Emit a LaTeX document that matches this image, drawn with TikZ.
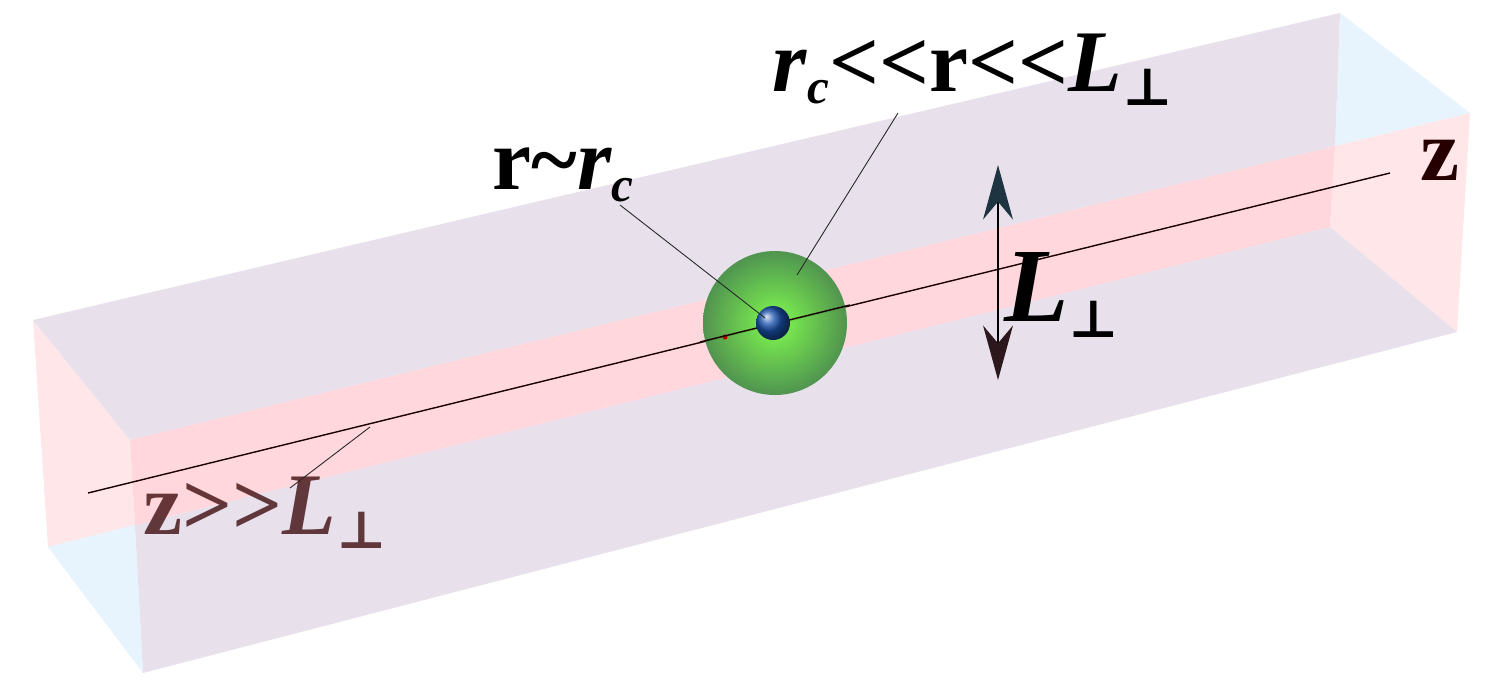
\documentclass[tikz,border=0pt]{standalone}
\usepackage{fontspec}
\setmainfont{Liberation Serif}
\newfontfamily\symfont{DejaVu Serif}
\usetikzlibrary{arrows.meta}
\definecolor{lav}{HTML}{E8E1EC}
\definecolor{band}{HTML}{FFD7DD}
\definecolor{pale}{HTML}{FFE6E8}
\definecolor{sky}{HTML}{E7F4FE}
\definecolor{tipup}{HTML}{1E3440}
\definecolor{tipdn}{HTML}{2C171C}
\newcommand{\Lperp}{\textit{L}\raisebox{-0.35ex}{\fontsize{30}{30}\selectfont\symfont\bfseries ⊥}}
\newcommand{\rsub}{\textit{r}\raisebox{-0.3ex}{\fontsize{28}{28}\selectfont\textit{c}}}
\tikzstyle{face}=[draw=none]
\tikzstyle{lab}=[font=\fontsize{50}{56}\selectfont\bfseries,inner sep=0pt]
\tikzstyle{leader}=[line width=0.5pt,black!85]
\begin{document}
\begin{tikzpicture}[x=0.02cm,y=-0.02cm]
\useasboundingbox (0,0) rectangle (1500,690);
% corners of the box
\coordinate (A) at (33,320); \coordinate (B) at (130,440);
\coordinate (C) at (48,547); \coordinate (D) at (143,673);
\coordinate (E) at (1340,13); \coordinate (F) at (1470,113);
\coordinate (G) at (1330,227); \coordinate (H) at (1457,332);
\coordinate (P) at (135,525); \coordinate (Q) at (1335,146);
% faces
\fill[face,pale] (A) -- (B) -- (P) -- (C) -- cycle;
\fill[face,sky] (C) -- (P) -- (D) -- cycle;
\fill[face,sky] (E) -- (F) -- (Q) -- cycle;
\fill[face,pale] (Q) -- (F) -- (H) -- (G) -- cycle;
\fill[face,lav] (A) -- (E) -- (Q) -- (B) -- cycle;
\fill[face,lav] (P) -- (G) -- (H) -- (D) -- cycle;
\fill[face,band] (B) -- (Q) -- (G) -- (P) -- cycle;
% axis
\coordinate (z0) at (88,493); \coordinate (z1) at (1390,173);
\draw[line width=0.8pt,black!90!red] (z0) -- (z1);
\node[lab,text=black!85!red] (zlab) at (1440,160) {z};
% spheres
\shade[inner color=green!65!lime!75!white,outer color=green!40!black!75,opacity=0.9] (775,323) circle (72);
\fill[red!70!black] (725,337) circle (2.5);
\draw[line width=0.8pt,black!90!red] (700,342) -- (850,305);
\shade[ball color=blue!45!teal!80!gray] (773,323) circle (17);
\coordinate (core) at (765,318); \coordinate (shell) at (797,275);
\coordinate (far) at (370,427);
% arrow
\coordinate (up) at (998,165); \coordinate (dn) at (998,380);
\draw[line width=1pt,{Stealth[length=31pt,width=17pt,color=tipdn,fill=tipdn]}-{Stealth[length=31pt,width=17pt,color=tipup,fill=tipup]}] (dn) -- (up);
\node[lab,font=\fontsize{60}{66}\selectfont\bfseries] (Llab) at (1062,295) {\Lperp};
% labels
\node[lab] (rc) at (563,175) {r\textasciitilde\rsub};
\node[lab] (mid) at (973,70) {\rsub{}<{}<r<{}<\Lperp};
\node[lab,text=black!80!red,opacity=0.75] (zl) at (265,513) {z>{}>\Lperp};
\draw[leader] (620,205) -- (core);
\draw[leader] (898,113) -- (shell);
\draw[leader] (290,488) -- (far);
\end{tikzpicture}
\end{document}
